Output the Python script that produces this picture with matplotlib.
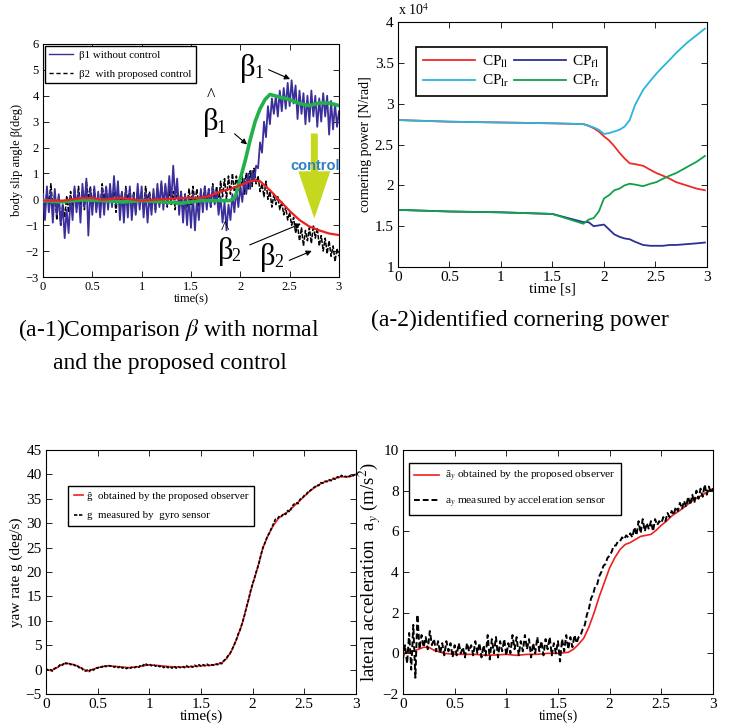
import numpy as np
import matplotlib
matplotlib.use("Agg")
import matplotlib.pyplot as plt

plt.rcParams['font.family'] = ['Liberation Serif', 'DejaVu Serif']
plt.rcParams['mathtext.fontset'] = 'stix'

# ---------------------------------------------------------------- data (a-1)
beta1 = [0.2, -0.8, 0.5, -0.5, 0.3, -0.9, 0.4, -0.6, 0.2, -1.0,
         -0.2, -1.5, -0.4, -1.3, 0.1, -0.8, 0.5, -0.5, 0.3, -0.9,
         0.6, -0.3, 0.8, -1.4, 0.4, -0.6, 0.5, -0.5, 0.3, -0.7,
         0.4, -0.6, 0.5, -0.4, 0.6, -0.3, 0.9, -0.2, 0.7, -0.8,
         0.3, -0.9, 0.4, -0.7, 0.5, -0.8, 0.2, -0.6, 0.6, -0.4,
         0.5, -0.7, 0.3, -0.9, 0.2, -0.6, 0.4, -0.5, 0.6, -0.3,
         0.7, -0.4, 0.6, -0.2, 0.9, -0.1, 1.3, 0.0, 0.8, -0.6,
         0.3, -0.9, 0.2, -1.0, 0.1, -1.1, 0.2, -1.2, 0.0, -0.8,
         0.4, -0.5, 0.5, -0.4, 0.4, -0.3, 0.5, -0.2, 0.3, -0.6,
         0.1, -0.9, -0.1, -1.2, -0.2, -0.8, 0.2, -0.5, 0.4, -0.3,
         0.5, -0.1, 0.8, 0.2, 1.0, 0.4, 1.1, 0.7, 1.3, 1.2,
         2.2, 1.8, 3.0, 2.4, 3.6, 2.9, 3.9, 3.3, 4.0, 3.2,
         4.2, 3.4, 4.3, 3.5, 4.5, 3.6, 4.6, 3.7, 4.4, 3.1,
         4.2, 3.3, 4.1, 2.9, 4.0, 3.0, 4.2, 3.2, 4.0, 2.8,
         3.9, 3.0, 4.1, 3.2, 4.0, 2.5, 3.8, 2.7, 3.7, 2.8,
         3.4]
beta2 = [0.1, -0.4, 0.3, -0.2, 0.6, -0.3, 0.2, -0.8, 0.1, -1.0,
         -0.2, -0.7, 0.1, -0.5, 0.3, -0.4, 0.4, -0.3, 0.5, -0.2,
         0.3, -0.4, 0.7, 0.0, 0.5, -0.3, 0.4, -0.4, 0.2, -0.3,
         0.6, -0.1, 0.5, -0.3, 0.4, -0.2, 0.3, -0.5, 0.4, -0.2,
         0.3, -0.4, 0.5, -0.1, 0.4, -0.3, 0.3, -0.5, 0.4, -0.2,
         0.3, -0.4, 0.5, -0.1, 0.3, -0.3, 0.2, -0.4, 0.4, -0.2,
         0.6, -0.1, 0.5, -0.3, 0.4, -0.2, 0.3, -0.4, 0.5, -0.2,
         0.3, -0.5, 0.2, -0.3, 0.4, -0.2, 0.5, -0.1, 0.4, -0.3,
         0.3, -0.2, 0.5, -0.1, 0.4, -0.3, 0.6, 0.0, 0.5, -0.2,
         0.7, 0.1, 0.8, 0.0, 0.9, 0.2, 1.0, 0.3, 0.9, 0.4,
         0.3, 0.9, 0.2, 1.0, 0.4, 1.1, 0.5, 1.2, 0.6, 0.9,
         0.3, 0.6, 0.1, 0.7, 0.0, 0.3, -0.3, 0.2, -0.2, 0.1,
         -0.4, -0.1, -0.6, -0.3, -0.8, -0.5, -1.0, -0.7, -1.3, -1.0,
         -1.6, -1.1, -1.8, -1.2, -1.6, -1.1, -1.7, -1.0, -1.5, -1.1,
         -1.8, -1.4, -2.0, -1.5, -2.1, -1.6, -2.2, -1.8, -2.4, -1.9,
         -2.2]
beta1_hat_t = [0, 0.2, 0.4, 0.6, 0.8, 1.0, 1.2, 1.4, 1.6, 1.8, 1.9, 1.95,
               2.0, 2.05, 2.1, 2.15, 2.2, 2.25, 2.3, 2.35, 2.4, 2.5, 2.6,
               2.7, 2.8, 2.9, 3.0]
beta1_hat = [-0.05, -0.1, -0.02, -0.05, -0.1, -0.05, -0.1, -0.15, -0.05,
             -0.05, -0.05, 0.1, 0.8, 1.5, 2.3, 3.0, 3.5, 3.85, 4.05, 4.0,
             3.95, 3.85, 3.7, 3.62, 3.72, 3.72, 3.62]
beta2_hat_t = [0, 0.2, 0.4, 0.5, 0.6, 0.8, 1.0, 1.2, 1.4, 1.6, 1.7, 1.8,
               1.9, 2.0, 2.1, 2.15, 2.2, 2.3, 2.4, 2.5, 2.6, 2.7, 2.8, 2.9,
               3.0]
beta2_hat = [-0.05, -0.05, 0.05, 0.05, -0.02, 0.05, -0.05, 0.0, 0.05, 0.05,
             0.15, 0.3, 0.4, 0.55, 0.7, 0.73, 0.7, 0.35, -0.05, -0.45, -0.8,
             -1.05, -1.2, -1.32, -1.38]

# ---------------------------------------------------------------- data (a-2)  [x 1e4]
cp_t = [0, 0.5, 1.0, 1.5, 1.8, 1.85, 1.9, 1.95, 2.0, 2.05, 2.1, 2.15, 2.2,
        2.25, 2.3, 2.38, 2.45, 2.51, 2.57, 2.64, 2.7, 2.8, 2.9, 2.98]
cp_ll = [2.8, 2.78, 2.77, 2.76, 2.75, 2.73, 2.7, 2.66, 2.6, 2.55, 2.48, 2.4,
         2.33, 2.27, 2.26, 2.24, 2.19, 2.15, 2.12, 2.08, 2.04, 2.0, 1.96, 1.94]
cp_lr = [2.8, 2.78, 2.77, 2.76, 2.75, 2.73, 2.71, 2.68, 2.63, 2.64, 2.66,
         2.68, 2.72, 2.8, 2.98, 3.17, 3.28, 3.37, 3.45, 3.54, 3.62, 3.74,
         3.84, 3.92]
cp_fl = [1.7, 1.68, 1.67, 1.65, 1.55, 1.55, 1.5, 1.51, 1.52, 1.46, 1.4,
         1.37, 1.35, 1.34, 1.31, 1.27, 1.26, 1.26, 1.26, 1.27, 1.27, 1.28,
         1.29, 1.3]
cp_fr = [1.7, 1.68, 1.67, 1.65, 1.53, 1.58, 1.6, 1.68, 1.84, 1.88, 1.94,
         1.96, 2.0, 2.02, 2.01, 1.99, 2.02, 2.04, 2.08, 2.12, 2.15, 2.22,
         2.29, 2.36]

# ---------------------------------------------------------------- data (b) yaw rate
yaw_hat_t = [0, 0.05, 0.1, 0.15, 0.2, 0.25, 0.3, 0.35, 0.4, 0.45, 0.5, 0.6,
             0.7, 0.8, 0.9, 1.0, 1.1, 1.2, 1.3, 1.4, 1.5, 1.6, 1.7, 1.75,
             1.8, 1.85, 1.9, 1.95, 2.0, 2.05, 2.1, 2.15, 2.2, 2.25, 2.3,
             2.35, 2.4, 2.45, 2.5, 2.55, 2.6, 2.65, 2.7, 2.75, 2.8, 2.85,
             2.9, 2.95, 3.0]
yaw_hat = [0.0, -0.2, 0.3, 1.0, 1.3, 1.1, 0.8, 0.2, -0.3, 0.0, 0.4, 0.8,
           0.6, 0.4, 0.6, 1.0, 0.8, 0.6, 0.5, 0.6, 0.8, 0.9, 1.3, 2.3, 4.0,
           6.5, 9.5, 13.5, 17.5, 21.0, 25.0, 27.5, 29.5, 31.0, 31.8, 32.5,
           33.5, 34.5, 35.5, 36.5, 37.3, 38.0, 38.5, 38.8, 39.2, 39.5, 39.5,
           39.6, 40.0]
yaw_meas = [0.2, -0.1, 0.1, -0.3, 0.2, 0.4, 0.6, 1.1, 0.9, 1.5,
            1.2, 1.4, 1.0, 1.2, 0.8, 0.9, 0.4, 0.5, -0.1, -0.3,
            -0.1, -0.4, 0.2, -0.1, 0.4, 0.3, 0.6, 0.5, 0.9, 0.6,
            0.9, 0.7, 0.8, 0.5, 0.7, 0.4, 0.7, 0.3, 0.5, 0.2,
            0.5, 0.3, 0.6, 0.4, 0.7, 0.5, 1.0, 0.8, 1.3, 0.9,
            1.1, 0.8, 1.0, 0.7, 0.9, 0.6, 0.8, 0.4, 0.7, 0.4,
            0.6, 0.3, 0.7, 0.3, 0.6, 0.4, 0.7, 0.4, 0.8, 0.5,
            0.7, 0.5, 0.9, 0.6, 1.0, 0.7, 1.0, 0.8, 1.1, 0.8,
            1.0, 0.9, 1.2, 1.0, 1.4, 1.2, 1.8, 2.2, 2.8, 3.2,
            4.1, 5.0, 6.0, 7.3, 8.2, 9.6, 11.0, 12.8, 14.3, 16.2,
            17.6, 18.9, 20.4, 21.7, 23.5, 25.0, 26.0, 27.2, 27.9, 28.9,
            29.8, 30.8, 30.9, 31.5, 31.4, 32.0, 31.8, 32.6, 32.3, 33.4,
            33.9, 34.2, 34.0, 34.9, 35.1, 35.7, 35.9, 36.6, 36.7, 37.2,
            37.4, 37.8, 37.7, 38.3, 38.2, 38.6, 38.5, 38.9, 38.7, 39.2,
            39.0, 39.5, 39.3, 39.8, 39.5, 39.6, 39.3, 39.7, 39.5, 39.9,
            40.0]

# ---------------------------------------------------------------- data (b) lateral acc
ay_hat_t = [0, 0.1, 0.2, 0.25, 0.3, 0.4, 0.5, 0.6, 0.7, 0.8, 0.9, 1.0, 1.1,
            1.2, 1.3, 1.4, 1.5, 1.6, 1.65, 1.7, 1.75, 1.8, 1.85, 1.9, 1.95,
            2.0, 2.05, 2.1, 2.15, 2.2, 2.25, 2.3, 2.35, 2.4, 2.45, 2.5,
            2.55, 2.6, 2.7, 2.8, 2.9, 3.0]
ay_hat = [0.0, 0.1, 0.3, 0.3, 0.15, 0.0, -0.05, -0.05, -0.05, -0.1, -0.08,
          -0.05, -0.1, -0.05, -0.05, 0.0, 0.0, 0.05, 0.2, 0.45, 0.75, 1.3,
          2.0, 2.8, 3.5, 4.2, 4.7, 5.1, 5.35, 5.45, 5.6, 5.75, 5.8, 5.85,
          6.05, 6.3, 6.5, 6.75, 7.1, 7.5, 7.8, 8.1]
ay_meas = [-0.3, 0.4, -0.5, 1.0, -0.8, 1.4, -1.2, 1.9, 0.2, 0.9,
           0.3, 0.8, 0.2, 1.1, 0.4, 0.7, 0.1, 0.6, 0.0, 0.5,
           -0.1, 0.6, 0.1, 0.5, -0.2, 0.4, -0.1, 0.5, 0.0, 0.3,
           -0.2, 0.5, 0.1, 0.4, -0.1, 0.6, 0.0, 0.5, -0.2, 0.4,
           -0.1, 0.9, -0.3, 0.7, 0.0, 0.8, -0.2, 0.6, 0.1, 0.7,
           -0.1, 0.5, 0.0, 0.9, 0.2, 0.8, -0.1, 0.6, 0.1, 0.9,
           0.2, 0.7, -0.2, 0.5, 0.0, 0.8, 0.1, 0.6, -0.1, 0.7,
           0.2, 0.8, -0.1, 0.5, 0.0, 0.6, -0.4, 0.7, 0.1, 0.9,
           0.2, 0.8, 0.3, 0.9, 0.5, 0.8, 0.9, 1.2, 1.4, 1.9,
           2.2, 2.7, 2.9, 3.3, 3.4, 3.8, 4.0, 4.3, 4.4, 4.7,
           4.8, 5.0, 5.3, 5.3, 5.5, 5.5, 5.7, 5.6, 5.8, 5.7,
           5.9, 5.7, 6.2, 5.8, 6.5, 5.9, 6.6, 6.0, 6.4, 6.1,
           6.5, 6.0, 6.6, 6.3, 6.5, 6.4, 6.7, 6.5, 6.9, 6.7,
           7.0, 6.8, 7.2, 7.0, 7.4, 7.1, 7.5, 7.2, 7.7, 7.3,
           7.8, 7.4, 8.0, 7.6, 8.1, 7.7, 8.3, 7.8, 8.2, 7.9,
           8.1]

x_ticks = [0, 0.5, 1, 1.5, 2, 2.5, 3]
x_ticklabels = ['0', '0.5', '1', '1.5', '2', '2.5', '3']


def style_axes(ax, size):
    ax.tick_params(direction='in', top=True, right=True, length=4,
                   width=0.6, labelsize=size, pad=3)
    for s in ax.spines.values():
        s.set_linewidth(0.8)
    ax.set_xlim(0, 3)
    ax.set_xticks(x_ticks)
    ax.set_xticklabels(x_ticklabels)


fig = plt.figure(figsize=(7.32, 7.28), dpi=100)

###############################################################################
# (a-1) body slip angle
ax1 = fig.add_axes([0.0587, 0.6195, 0.4044, 0.3201])
t1 = np.linspace(0, 3, len(beta1))
t2 = np.linspace(0, 3, len(beta2))
ax1.plot(t2, beta2, color='black', lw=1.1, ls=(0, (3, 1)), zorder=2)
ax1.plot(t1, beta1, color='#3b2f9c', lw=1.3, zorder=3)
ax1.plot(beta1_hat_t, beta1_hat, color='#22b04a', lw=2.6, zorder=4)
ax1.plot(beta2_hat_t, beta2_hat, color='#ee2020', lw=1.6, zorder=5)
ax1.set_ylim(-3, 6)
ax1.set_yticks(range(-3, 7))
style_axes(ax1, 9)
ax1.set_xlabel('time(s)', fontsize=9, labelpad=0)
ax1.set_ylabel('body slip angle β(deg)', fontsize=9, labelpad=2)

h1, = ax1.plot([], [], color='#3b2f9c', lw=1.0)
h2, = ax1.plot([], [], color='black', lw=1.0, ls=(0, (3, 2)))
ax1.legend([h1, h2], ['β1 without control', 'β2  with proposed control'],
           loc='upper left', bbox_to_anchor=(0.0, 1.0), fontsize=7.8,
           fancybox=False, edgecolor='black', framealpha=1, handlelength=2.2,
           handletextpad=0.6, borderaxespad=0.15, labelspacing=0.9)

# labels on the curves
ax1.text(2.0, 5.05, 'β', fontsize=22, ha='left', va='center')
ax1.text(2.14, 4.85, '1', fontsize=13, ha='left', va='center')
ax1.annotate('', xy=(2.53, 4.6), xytext=(2.26, 5.05),
             arrowprops=dict(arrowstyle='-|>', color='black', lw=0.8,
                             mutation_scale=8))
ax1.text(1.62, 2.95, 'β', fontsize=22, ha='left', va='center')
ax1.text(1.655, 3.98, '^', fontsize=13, ha='left', va='center')
ax1.text(1.76, 2.75, '1', fontsize=13, ha='left', va='center')
ax1.annotate('', xy=(2.09, 2.05), xytext=(1.92, 2.6),
             arrowprops=dict(arrowstyle='-|>', color='black', lw=0.8,
                             mutation_scale=8))
ax1.text(1.77, -2.0, 'β', fontsize=22, ha='left', va='center')
ax1.text(1.80, -1.15, '^', fontsize=13, ha='left', va='center')
ax1.text(1.91, -2.2, '2', fontsize=13, ha='left', va='center')
ax1.annotate('', xy=(2.64, -0.9), xytext=(2.07, -1.8),
             arrowprops=dict(arrowstyle='-|>', color='black', lw=0.8,
                             mutation_scale=8))
ax1.text(2.2, -2.25, 'β', fontsize=22, ha='left', va='center')
ax1.text(2.34, -2.45, '2', fontsize=13, ha='left', va='center')
ax1.annotate('', xy=(2.75, -1.95), xytext=(2.47, -2.4),
             arrowprops=dict(arrowstyle='-|>', color='black', lw=0.8,
                             mutation_scale=8))
ax1.annotate('', xy=(2.75, -0.85), xytext=(2.75, 2.65),
             arrowprops=dict(arrowstyle='simple,head_length=34,head_width=23,tail_width=5',
                             color='#c5d81e', mutation_scale=1, lw=0),
             zorder=6)
ax1.text(2.76, 1.27, 'control', fontsize=10.5, fontweight='bold',
         color='#2f7fc6', ha='center', va='center', family='Liberation Sans',
         zorder=7)

###############################################################################
# (a-2) cornering power
ax2 = fig.add_axes([0.5437, 0.6332, 0.4221, 0.3365])
ax2.plot(cp_t, cp_ll, color='#ee2a2a', lw=1.3, label=r'CP$_{\rm ll}$')
ax2.plot(cp_t, cp_lr, color='#27b6dc', lw=1.3, label=r'CP$_{\rm lr}$')
ax2.plot(cp_t, cp_fl, color='#2b2f9a', lw=1.3, label=r'CP$_{\rm fl}$')
ax2.plot(cp_t, cp_fr, color='#12a04a', lw=1.3, label=r'CP$_{\rm fr}$')
ax2.set_ylim(1, 4)
ax2.set_yticks([1, 1.5, 2, 2.5, 3, 3.5, 4])
ax2.set_yticklabels(['1', '1.5', '2', '2.5', '3', '3.5', '4'])
style_axes(ax2, 11)
ax2.set_xlabel('time [s]', fontsize=11, labelpad=-1)
ax2.set_ylabel('cornering power [N/rad]', fontsize=10, labelpad=2)
ax2.text(0.0, 1.015, r'x 10$^{4}$', transform=ax2.transAxes, fontsize=10,
         ha='left', va='bottom')
ax2.legend(ncol=2, loc='upper left', bbox_to_anchor=(0.058, 0.9), fontsize=11,
           fancybox=False, edgecolor='black', framealpha=1, handlelength=3.4,
           columnspacing=0.3, handletextpad=0.45, labelspacing=0.25,
           borderpad=0.45, borderaxespad=0)
ax2.get_legend().get_frame().set_linewidth(1.2)

###############################################################################
# (b) yaw rate
ax3 = fig.add_axes([0.0628, 0.0467, 0.4235, 0.3352])
ty = np.linspace(0, 3, len(yaw_meas))
ax3.plot(yaw_hat_t, yaw_hat, color='#ee2020', lw=1.2, label='ĝ  obtained by the proposed observer')
ax3.plot(ty, yaw_meas, color='black', lw=1.2, ls=(0, (2, 1)), label='g  measured by  gyro sensor')
ax3.set_ylim(-5, 45)
ax3.set_yticks(range(-5, 46, 5))
style_axes(ax3, 11)
ax3.set_xlabel('time(s)', fontsize=11, labelpad=-1)
ax3.set_ylabel('yaw rate g (deg/s)', fontsize=11, labelpad=2)
ax3.legend(loc='upper left', bbox_to_anchor=(0.072, 0.852), fontsize=7.8,
           fancybox=False, edgecolor='black', framealpha=1, handlelength=0.9,
           handletextpad=0.3, labelspacing=0.9, borderaxespad=0,
           borderpad=0.5)

###############################################################################
# (b) lateral acceleration
ax4 = fig.add_axes([0.5505, 0.0467, 0.4235, 0.3352])
ta = np.linspace(0, 3, len(ay_meas))
ax4.plot(ay_hat_t, ay_hat, color='#ee2020', lw=1.2, label='â$_y$ obtained by the proposed observer')
ax4.plot(ta, ay_meas, color='black', lw=1.4, ls=(0, (3, 1.5)), label='a$_y$ measured by acceleration sensor')
ax4.set_ylim(-2, 10)
ax4.set_yticks(range(-2, 11, 2))
style_axes(ax4, 11)
ax4.set_xlabel('time(s)', fontsize=10, labelpad=-1)
ax4.set_ylabel(r'lateral acceleration  a$_y$ (m/s$^2$)', fontsize=13.5, labelpad=0)
ax4.legend(loc='upper left', bbox_to_anchor=(0.018, 0.945), fontsize=8.2,
           fancybox=False, edgecolor='black', framealpha=1, handlelength=2.2,
           handletextpad=0.5, labelspacing=0.9, borderaxespad=0,
           borderpad=0.5)

###############################################################################
# captions
fig.text(0.231, 0.547, r'(a-1)Comparison $\beta$ with normal', fontsize=17,
         ha='center', va='center')
fig.text(0.232, 0.501, 'and the proposed control', fontsize=17,
         ha='center', va='center')
fig.text(0.710, 0.560, '(a-2)identified cornering power', fontsize=17,
         ha='center', va='center')

fig.savefig('out.png', dpi=100)
